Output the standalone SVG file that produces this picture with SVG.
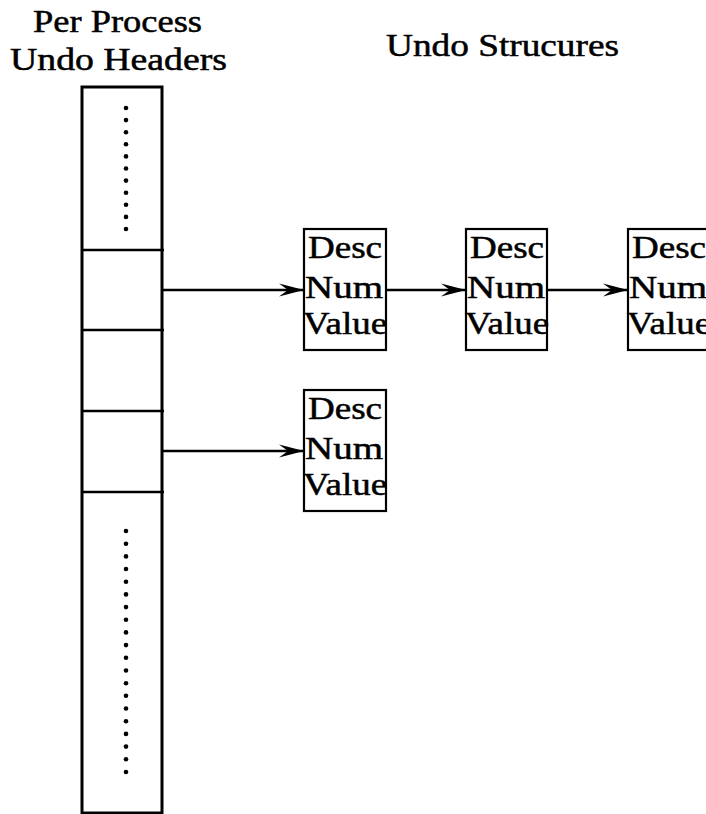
<svg xmlns="http://www.w3.org/2000/svg" width="706" height="814" viewBox="0 0 706 814">
<style>
text{font-family:"Liberation Serif","Times New Roman",serif;fill:#000;stroke:#000;stroke-width:0.5}
.title{font-size:31px}
.cell{font-size:32px}
.box{fill:#fff;stroke:#000;stroke-width:2.2}
.col{fill:none;stroke:#000;stroke-width:3}
.div{stroke:#000;stroke-width:2.5}
.conn{stroke:#000;stroke-width:2.6;fill:none}
.dot{fill:#000}
</style>
<defs>
<marker id="ah" markerUnits="userSpaceOnUse" markerWidth="28" markerHeight="16" viewBox="-26 -8 28 16" refX="0" refY="0" orient="auto">
<path d="M-25,-6.5 L0,0 L-25,6.5 L-16,0 Z" fill="#000"/>
</marker>
</defs>
<rect width="706" height="814" fill="#fff"/>
<g id="titles">
<text class="title" x="33" y="32" textLength="169" lengthAdjust="spacingAndGlyphs">Per Process</text>
<text class="title" x="10" y="70" textLength="217" lengthAdjust="spacingAndGlyphs">Undo Headers</text>
<text class="title" x="386" y="56" textLength="233" lengthAdjust="spacingAndGlyphs">Undo Strucures</text>
</g>
<g id="headers">
<rect class="col" x="82" y="87" width="80" height="726"/>
<line class="div" x1="82" y1="250" x2="164" y2="250"/>
<line class="div" x1="82" y1="330" x2="164" y2="330"/>
<line class="div" x1="82" y1="411" x2="164" y2="411"/>
<line class="div" x1="82" y1="492" x2="164" y2="492"/>
<g class="dot">
<circle cx="126" cy="108" r="2.3"/><circle cx="126" cy="120.1" r="2.3"/><circle cx="126" cy="132.2" r="2.3"/><circle cx="126" cy="144.3" r="2.3"/><circle cx="126" cy="156.4" r="2.3"/><circle cx="126" cy="168.5" r="2.3"/><circle cx="126" cy="180.6" r="2.3"/><circle cx="126" cy="192.7" r="2.3"/><circle cx="126" cy="204.8" r="2.3"/><circle cx="126" cy="216.9" r="2.3"/><circle cx="126" cy="229" r="2.3"/>
<circle cx="126" cy="531" r="2.3"/><circle cx="126" cy="543.7" r="2.3"/><circle cx="126" cy="556.4" r="2.3"/><circle cx="126" cy="569" r="2.3"/><circle cx="126" cy="581.7" r="2.3"/><circle cx="126" cy="594.4" r="2.3"/><circle cx="126" cy="607.1" r="2.3"/><circle cx="126" cy="619.8" r="2.3"/><circle cx="126" cy="632.4" r="2.3"/><circle cx="126" cy="645.1" r="2.3"/><circle cx="126" cy="657.8" r="2.3"/><circle cx="126" cy="670.5" r="2.3"/><circle cx="126" cy="683.2" r="2.3"/><circle cx="126" cy="695.8" r="2.3"/><circle cx="126" cy="708.5" r="2.3"/><circle cx="126" cy="721.2" r="2.3"/><circle cx="126" cy="733.9" r="2.3"/><circle cx="126" cy="746.6" r="2.3"/><circle cx="126" cy="759.2" r="2.3"/><circle cx="126" cy="772" r="2.3"/>
</g>
</g>
<g id="undo1">
<rect class="box" x="304" y="229" width="82" height="121"/>
<text class="cell" x="308" y="258" textLength="74" lengthAdjust="spacingAndGlyphs">Desc</text>
<text class="cell" x="305" y="298" textLength="78" lengthAdjust="spacingAndGlyphs">Num</text>
<text class="cell" x="303" y="334" textLength="84" lengthAdjust="spacingAndGlyphs">Value</text>
</g>
<g id="undo2">
<rect class="box" x="466" y="229" width="81" height="121"/>
<text class="cell" x="470" y="258" textLength="74" lengthAdjust="spacingAndGlyphs">Desc</text>
<text class="cell" x="467" y="298" textLength="78" lengthAdjust="spacingAndGlyphs">Num</text>
<text class="cell" x="465" y="334" textLength="84" lengthAdjust="spacingAndGlyphs">Value</text>
</g>
<g id="undo3">
<rect class="box" x="628" y="229" width="82" height="121"/>
<text class="cell" x="632" y="258" textLength="74" lengthAdjust="spacingAndGlyphs">Desc</text>
<text class="cell" x="629" y="298" textLength="78" lengthAdjust="spacingAndGlyphs">Num</text>
<text class="cell" x="627" y="334" textLength="84" lengthAdjust="spacingAndGlyphs">Value</text>
</g>
<g id="undo4">
<rect class="box" x="304" y="390" width="82" height="121"/>
<text class="cell" x="308" y="419" textLength="74" lengthAdjust="spacingAndGlyphs">Desc</text>
<text class="cell" x="305" y="459" textLength="78" lengthAdjust="spacingAndGlyphs">Num</text>
<text class="cell" x="303" y="495" textLength="84" lengthAdjust="spacingAndGlyphs">Value</text>
</g>
<g id="connectors">
<line class="conn" x1="162" y1="290" x2="304" y2="290" marker-end="url(#ah)"/>
<line class="conn" x1="386" y1="290" x2="466" y2="290" marker-end="url(#ah)"/>
<line class="conn" x1="547" y1="290" x2="628" y2="290" marker-end="url(#ah)"/>
<line class="conn" x1="162" y1="451" x2="304" y2="451" marker-end="url(#ah)"/>
</g>
</svg>
